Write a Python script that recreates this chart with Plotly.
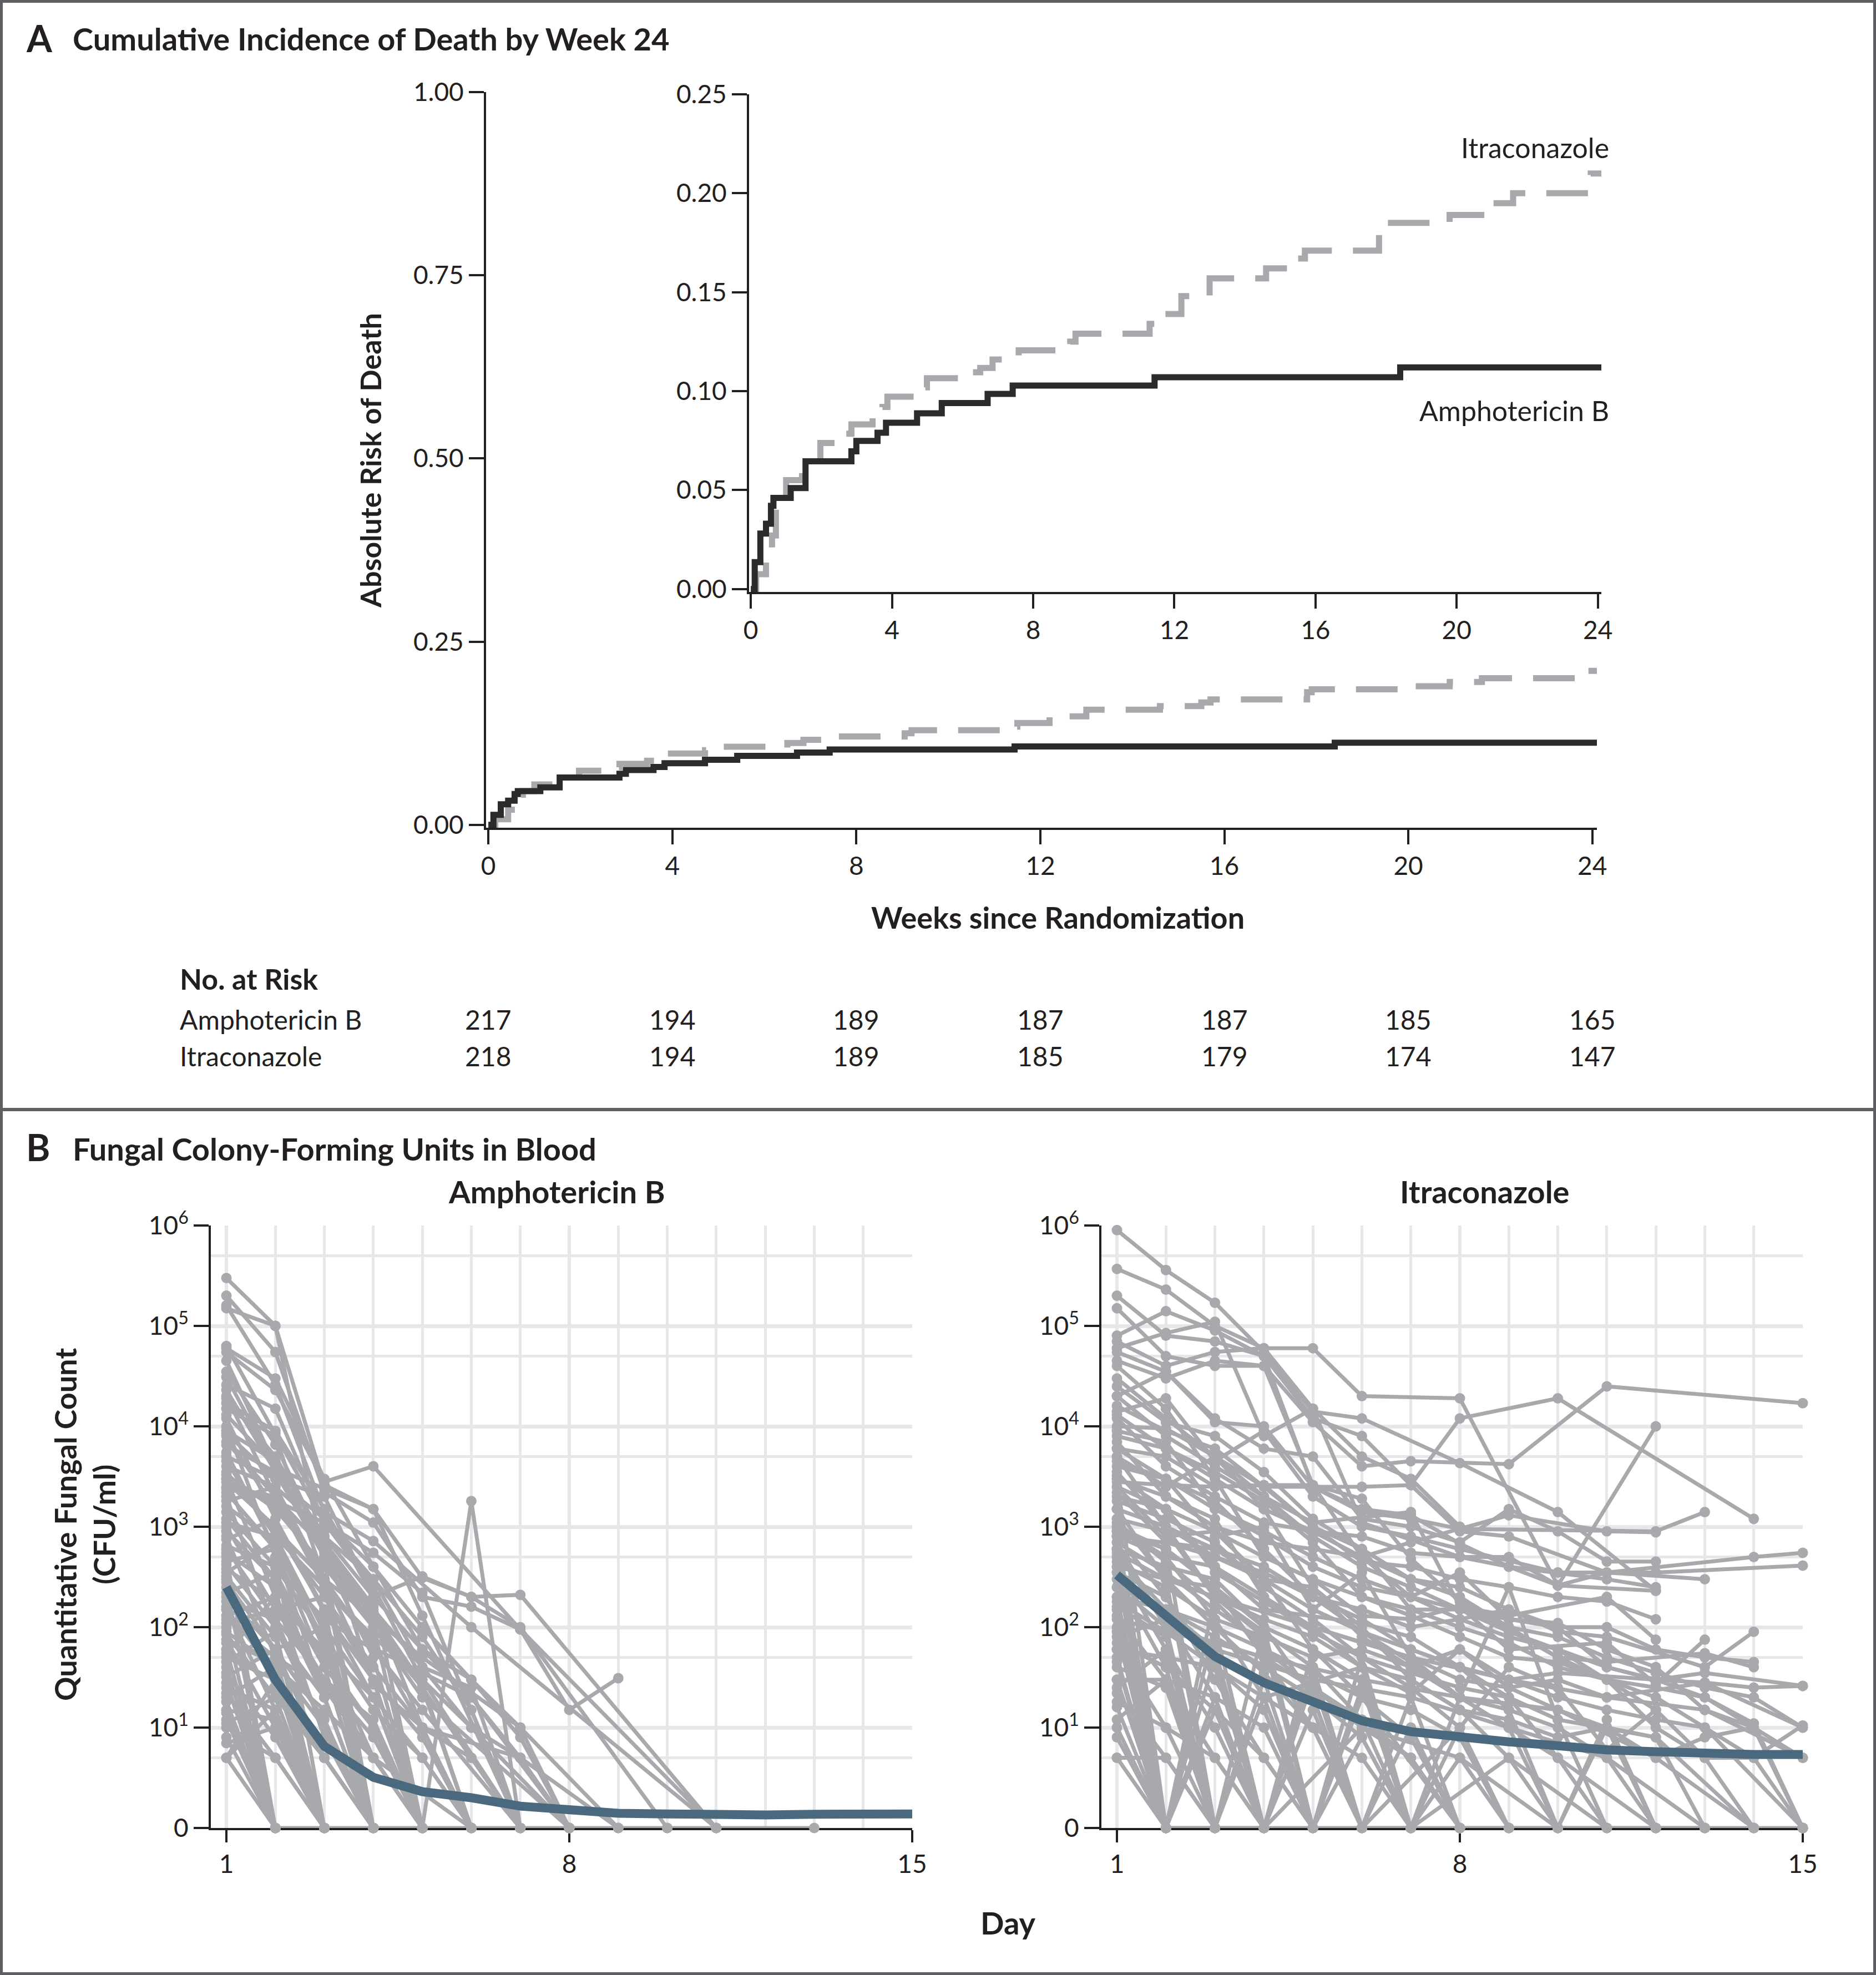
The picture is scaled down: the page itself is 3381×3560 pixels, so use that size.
import math
import plotly.graph_objects as go

W, H = 3381, 3560

# ---------------- Panel A data ----------------
AMB_WEEKS = [0, 0.11, 0.27, 0.43, 0.57, 0.64, 1.13, 1.55, 2.85, 2.99, 3.59, 3.83,
             4.71, 5.41, 6.71, 7.42, 11.44, 18.4, 24.1]
AMB_RISK_CURVE = [0, 0.0136, 0.028, 0.033, 0.042, 0.046, 0.051, 0.0645, 0.0696, 0.0748,
                  0.079, 0.084, 0.0888, 0.094, 0.0986, 0.1028, 0.107, 0.112, 0.112]
ITR_WEEKS = [0, 0.15, 0.43, 0.60, 0.71, 0.75, 1.0, 1.45, 1.97, 2.57, 2.85, 3.45, 3.73,
             3.87, 4.71, 4.99, 6.29, 6.5, 6.85, 7.59, 9.05, 9.2, 11.3, 11.5, 12.2, 13.0,
             14.6, 15.5, 15.7, 17.8, 17.9, 19.8, 20.9, 21.6, 23.8, 24.1]
ITR_RISK_CURVE = [0, 0.0075, 0.0206, 0.027, 0.041, 0.046, 0.055, 0.0645, 0.0738, 0.0785,
                  0.0832, 0.0874, 0.092, 0.0972, 0.1019, 0.1065, 0.1095, 0.1117, 0.116,
                  0.1206, 0.125, 0.129, 0.134, 0.139, 0.148, 0.157, 0.162, 0.167, 0.171,
                  0.181, 0.185, 0.189, 0.195, 0.200, 0.210, 0.210]
RISK_WEEKS = [0, 4, 8, 12, 16, 20, 24]
AMB_AT_RISK = [217, 194, 189, 187, 187, 185, 165]
ITR_AT_RISK = [218, 194, 189, 185, 179, 174, 147]

# ---------------- Panel B data (CFU/ml by day) ----------------
DAYS = list(range(1, 16))
AMB_MEAN = [250, 30, 6.5, 3.2, 2.3, 2.0, 1.65, 1.5, 1.4, 1.38, 1.35, 1.35, 1.37, 1.37, 1.38]
ITR_MEAN = [331, 132, 51, 28, 18, 11.7, 9.1, 7.9, 7.2, 6.6, 6.0, 5.75, 5.5, 5.4, 5.4]

AMB_PATIENTS = [
    [(1, 3.0e5), (2, 1.0e5), (3, 2.6e3), (4, 1.5e3), (5, 310), (6, 200), (7, 210), (11, 0)],
    [(1, 2.0e5), (2, 5.5e4), (3, 2.2e3), (4, 1.1e3), (5, 200), (6, 160), (7, 95), (8, 15), (9, 31)],
    [(1, 1.6e5), (2, 2.6e4), (3, 1.4e3), (4, 720), (6, 100), (11, 0)],
    [(1, 1.5e5), (2, 1.0e5), (3, 450), (4, 0)],
    [(1, 6.3e4), (2, 8.5e3), (3, 1.1e3), (4, 250), (5, 30), (7, 0)],
    [(1, 5.5e4), (2, 2.3e4), (3, 2.8e3), (4, 4.0e3), (7, 95), (11, 0)],
    [(1, 3.5e4), (2, 6.6e3), (3, 630), (4, 140), (5, 27), (6, 0)],
    [(1, 3.1e4), (2, 3.8e3), (3, 2.4e3), (4, 1.5e3), (5, 130), (7, 0)],
    [(1, 2.3e4), (2, 3.5e3), (3, 550), (4, 100), (5, 0)],
    [(1, 1.5e4), (2, 8.0e3), (3, 300), (4, 62), (6, 20), (8, 0)],
    [(1, 1.2e4), (2, 1.2e3), (3, 140), (4, 30), (5, 0)],
    [(1, 8.5e3), (2, 3.0e3), (3, 2.0e3), (4, 200), (5, 320), (6, 200), (7, 100), (10, 0)],
    [(1, 5.5e3), (2, 600), (3, 40), (4, 0)],
    [(1, 4.0e3), (2, 2.5e3), (3, 900), (4, 27), (5, 10), (6, 0)],
    [(1, 3.0e3), (2, 200), (3, 30), (4, 12), (5, 0), (6, 1.8e3), (7, 0)],
    [(1, 2.8e3), (2, 1.0e3), (3, 150), (4, 20), (5, 0)],
    [(1, 2.4e3), (2, 1.8e3), (3, 1.1e3), (4, 300), (5, 40), (6, 25), (7, 0)],
    [(1, 2.0e3), (2, 90), (3, 0)],
    [(1, 1.6e3), (2, 700), (3, 60), (4, 5), (5, 0)],
    [(1, 1.2e3), (2, 300), (3, 20), (4, 0)],
    [(1, 1.0e3), (2, 150), (3, 200), (4, 30), (5, 8), (6, 0)],
    [(1, 800), (2, 50), (3, 0)],
    [(1, 650), (2, 400), (3, 120), (4, 60), (5, 15), (7, 0)],
    [(1, 500), (2, 0)],
    [(1, 420), (2, 100), (3, 10), (4, 0)],
    [(1, 350), (2, 700), (3, 70), (4, 0)],
    [(1, 300), (2, 25), (3, 5), (4, 0)],
    [(1, 250), (2, 0)],
    [(1, 200), (2, 60), (3, 100), (4, 20), (5, 5), (6, 0)],
    [(1, 160), (2, 15), (3, 0)],
    [(1, 130), (2, 200), (3, 8), (4, 0)],
    [(1, 100), (2, 0)],
    [(1, 90), (2, 40), (3, 15), (4, 5), (6, 0)],
    [(1, 75), (2, 10), (3, 0)],
    [(1, 60), (2, 0)],
    [(1, 50), (2, 30), (3, 5), (4, 0)],
    [(1, 40), (2, 0)],
    [(1, 35), (2, 8), (3, 0)],
    [(1, 28), (2, 0)],
    [(1, 22), (2, 5), (3, 0)],
    [(1, 18), (2, 0)],
    [(1, 15), (2, 12), (3, 0)],
    [(1, 12), (2, 0)],
    [(1, 10), (2, 5), (3, 0)],
    [(1, 8), (2, 0)],
    [(1, 5), (2, 0), (3, 0), (4, 0), (5, 0), (6, 0), (7, 0), (8, 0), (9, 0), (10, 0), (11, 0), (13, 0)],
    [(1, 5), (2, 15), (3, 0)],
    [(1, 2.6e4), (2, 1.5e4), (3, 1.1e3), (4, 550), (5, 220), (7, 0)],
    [(1, 4.5e4), (2, 4.0e3), (3, 500), (4, 100), (5, 20), (8, 0)],
    [(1, 1.9e4), (2, 5.0e3), (3, 700), (4, 160), (5, 10), (7, 5), (9, 0)],
    [(1, 3.0e3), (3, 300), (5, 50), (7, 10), (9, 0)],
    [(1, 7.0e3), (2, 2.0e3), (3, 250), (4, 80), (5, 30), (6, 10), (8, 0)],
    [(1, 1.4e3), (2, 400), (3, 80), (4, 15), (5, 5), (6, 0)],
    [(1, 900), (2, 300), (3, 40), (4, 10), (5, 0)],
    [(1, 120), (2, 50), (3, 25), (4, 5), (5, 0)],
    [(1, 45), (2, 90), (3, 20), (4, 0)],
    [(1, 6.0e4), (2, 3.0e4), (3, 3.0e3), (4, 400), (5, 60), (6, 20), (7, 5), (8, 0)],
    [(1, 9.0e3), (2, 4.5e3), (3, 800), (4, 200), (5, 60), (6, 30), (7, 10), (8, 0)],
    [(1, 3.5e3), (2, 900), (3, 200), (4, 40), (5, 10), (6, 5), (7, 0)],
    [(1, 600), (2, 120), (3, 30), (4, 8), (5, 0)],
    [(1, 280), (2, 60), (3, 12), (4, 0)],
    [(1, 2.0e4), (2, 2.0e3), (3, 300), (4, 0)],
    [(1, 1.7e4), (2, 9.0e3), (3, 1.5e3), (4, 200), (5, 0)],
    [(1, 1.0e4), (2, 500), (3, 0)],
    [(1, 6.5e3), (2, 3.5e3), (3, 500), (4, 50), (5, 0)],
    [(1, 4.5e3), (2, 800), (3, 90), (4, 0)],
    [(1, 3.3e3), (2, 1.5e3), (3, 400), (4, 100), (5, 25), (6, 0)],
    [(1, 2.2e3), (2, 600), (3, 100), (4, 0)],
    [(1, 1.8e3), (2, 2.5e3), (3, 300), (4, 30), (5, 0)],
    [(1, 1.1e3), (2, 800), (3, 250), (4, 70), (5, 10), (6, 0)],
    [(1, 750), (2, 1.2e3), (3, 150), (4, 0)],
    [(1, 550), (2, 250), (3, 50), (4, 10), (5, 0)],
    [(1, 450), (2, 600), (3, 20), (4, 0)],
    [(1, 380), (2, 180), (3, 60), (4, 20), (5, 0)],
    [(1, 320), (2, 80), (3, 0)],
    [(1, 220), (2, 350), (3, 40), (4, 0)],
    [(1, 180), (2, 120), (3, 10), (4, 0)],
    [(1, 150), (2, 35), (3, 0)],
    [(1, 110), (2, 150), (3, 30), (4, 5), (5, 0)],
    [(1, 85), (2, 20), (3, 0)],
    [(1, 70), (2, 45), (3, 10), (4, 0)],
    [(1, 55), (2, 200), (3, 20), (4, 0)],
    [(1, 32), (2, 60), (3, 5), (4, 0)],
    [(1, 25), (2, 15), (3, 0)],
    [(1, 20), (2, 40), (3, 0)],
    [(1, 14), (2, 0)],
    [(1, 11), (2, 20), (3, 5), (4, 0)],
    [(1, 7), (2, 10), (3, 0)],
    [(1, 5), (2, 30), (3, 0)],
    [(1, 1.3e4), (2, 4.0e3), (3, 600), (4, 120), (5, 25), (6, 5), (7, 0)],
    [(1, 8.0e3), (2, 1.5e3), (3, 800), (4, 300), (5, 80), (6, 15), (7, 0)],
    [(1, 5.0e3), (2, 3.0e3), (3, 1.2e3), (4, 400), (5, 100), (6, 30), (7, 8), (8, 0)],
    [(1, 2.5e3), (2, 2.0e3), (3, 600), (4, 150), (5, 40), (6, 10), (7, 5), (8, 0)],
]

ITR_PATIENTS = [
    [(1, 9.0e5), (2, 3.6e5), (3, 1.7e5), (4, 5.5e4), (5, 1.4e4), (6, 1.2e4), (8, 4.3e3), (10, 1.4e3), (12, 230)],
    [(1, 3.7e5), (2, 2.3e5), (3, 1.0e5), (4, 6.0e4), (5, 6.0e4), (6, 2.0e4), (8, 1.9e4), (10, 260), (12, 1.0e4)],
    [(1, 2.0e5), (2, 8.0e4), (3, 7.0e4), (4, 5.0e4), (5, 1.2e4), (6, 8.0e3), (7, 2.6e3), (8, 1.2e4), (10, 1.9e4), (14, 1.2e3)],
    [(1, 1.5e5), (2, 5.0e4), (3, 4.0e4), (4, 4.0e4), (5, 1.1e4), (6, 4.0e3), (7, 4.5e3), (9, 4.2e3), (11, 2.5e4), (15, 1.7e4)],
    [(1, 8.0e4), (2, 1.4e5), (3, 9.0e4), (4, 5.0e4), (5, 2.5e3), (6, 1.4e3), (7, 1.2e3), (8, 950), (12, 900), (13, 1.4e3)],
    [(1, 6.0e4), (2, 8.5e4), (3, 1.1e5), (4, 8.0e3), (5, 1.5e4), (6, 1.1e3), (8, 500), (9, 500), (10, 260), (12, 230)],
    [(1, 4.5e4), (2, 3.0e4), (3, 4.5e4), (4, 4.0e4), (5, 2.6e3), (6, 500), (7, 700), (9, 1.3e3), (11, 900), (12, 880)],
    [(1, 2.0e4), (2, 3.5e4), (3, 1.1e4), (4, 1.0e4), (5, 2.5e3), (6, 1.5e3), (7, 1.3e3), (8, 680), (9, 400), (10, 260), (11, 350), (14, 500), (15, 550)],
    [(1, 1.4e4), (2, 1.9e4), (3, 4.5e3), (4, 9.0e3), (5, 2.0e3), (6, 1.0e3), (7, 800), (8, 600), (10, 350), (12, 350), (15, 410)],
    [(1, 1.0e4), (2, 9.5e3), (3, 5.0e3), (4, 2.0e3), (5, 1.1e3), (7, 1.4e3), (8, 160), (9, 130), (11, 200), (12, 75)],
    [(1, 8.0e3), (2, 6.0e3), (3, 3.0e3), (4, 500), (5, 300), (6, 130), (7, 120), (8, 160), (9, 60), (11, 70), (12, 27), (13, 75)],
    [(1, 6.0e3), (2, 5.0e3), (3, 2.5e3), (4, 2.6e3), (5, 2.6e3), (6, 1.9e3), (7, 480), (8, 180), (10, 50), (11, 45), (13, 55), (14, 40)],
    [(1, 5.0e3), (2, 2.5e3), (3, 5.0e3), (4, 1.5e3), (5, 250), (6, 80), (7, 40), (8, 60), (9, 30), (10, 35), (12, 30), (13, 35), (15, 26)],
    [(1, 4.0e3), (2, 3.0e3), (3, 800), (4, 1.0e3), (5, 150), (6, 350), (7, 50), (8, 20), (9, 250), (10, 12), (11, 0)],
    [(1, 3.0e3), (2, 2.0e3), (3, 1.2e3), (4, 200), (5, 100), (6, 40), (7, 22), (8, 60), (9, 25), (10, 30), (11, 20), (13, 28), (15, 10)],
    [(1, 2.5e3), (2, 800), (3, 900), (4, 300), (5, 60), (6, 20), (7, 8), (8, 0)],
    [(1, 2.0e3), (2, 1.5e3), (3, 400), (4, 150), (6, 110), (7, 80), (9, 20), (10, 5), (12, 0)],
    [(1, 1.5e3), (2, 300), (3, 250), (4, 50), (5, 10), (6, 0), (8, 10), (9, 0)],
    [(1, 1.2e3), (2, 900), (3, 200), (4, 90), (5, 40), (6, 12), (7, 0)],
    [(1, 1.0e3), (2, 500), (3, 120), (4, 20), (6, 40), (7, 0), (9, 5), (11, 0)],
    [(1, 900), (2, 0), (3, 50), (4, 0)],
    [(1, 800), (2, 200), (3, 40), (4, 0), (5, 30), (6, 0)],
    [(1, 700), (2, 100), (3, 0), (4, 20), (5, 0)],
    [(1, 600), (2, 400), (3, 300), (4, 100), (5, 20), (6, 0), (7, 10), (8, 0)],
    [(1, 500), (2, 0)],
    [(1, 400), (2, 60), (3, 10), (4, 0), (5, 15), (6, 0)],
    [(1, 350), (2, 200), (3, 30), (4, 5), (5, 0)],
    [(1, 300), (2, 40), (3, 0)],
    [(1, 250), (2, 150), (3, 80), (4, 40), (5, 20), (6, 8), (7, 0), (8, 5), (9, 0)],
    [(1, 200), (2, 0), (3, 20), (4, 0)],
    [(1, 160), (2, 80), (3, 0)],
    [(1, 130), (2, 30), (3, 5), (4, 0)],
    [(1, 100), (2, 0)],
    [(1, 80), (2, 120), (3, 20), (4, 0)],
    [(1, 60), (2, 10), (3, 0)],
    [(1, 50), (2, 0)],
    [(1, 40), (2, 25), (3, 0)],
    [(1, 30), (2, 0)],
    [(1, 22), (2, 5), (3, 0)],
    [(1, 16), (2, 0)],
    [(1, 12), (2, 30), (3, 0)],
    [(1, 10), (2, 0)],
    [(1, 5), (2, 0), (3, 0), (4, 0), (5, 0), (6, 0), (7, 0), (8, 0), (9, 0), (10, 0), (11, 0), (12, 0), (13, 0), (14, 0), (15, 0)],
    [(1, 5), (2, 5), (3, 0)],
    [(1, 3.5e3), (2, 1.0e3), (3, 600), (4, 400), (5, 200), (6, 150), (7, 100), (8, 120), (9, 80), (10, 60), (11, 40), (12, 30), (13, 28), (14, 25), (15, 26)],
    [(1, 2.2e3), (2, 700), (3, 500), (4, 300), (5, 250), (6, 100), (7, 30), (8, 15), (9, 12), (10, 8), (11, 10), (12, 5), (13, 8), (14, 10), (15, 0)],
    [(1, 1.8e3), (2, 1.2e3), (3, 700), (4, 250), (5, 120), (6, 50), (7, 25), (8, 10), (9, 40), (10, 25), (11, 6), (12, 15), (13, 5), (14, 5), (15, 10.5)],
    [(1, 900), (2, 600), (3, 250), (4, 100), (5, 60), (6, 30), (7, 0), (8, 20), (9, 15), (10, 0), (11, 12), (12, 0), (13, 0)],
    [(1, 700), (2, 350), (3, 150), (4, 70), (5, 0), (6, 25), (7, 0), (8, 10), (9, 0)],
    [(1, 450), (2, 250), (3, 120), (4, 80), (5, 50), (6, 60), (7, 40), (8, 20), (9, 10), (10, 5), (11, 0)],
    [(1, 3.0e4), (2, 1.2e4), (3, 5.0e3), (4, 2.5e3), (5, 1.0e3), (6, 600), (7, 300), (8, 250), (9, 150), (10, 100), (11, 40), (12, 30), (13, 20), (14, 11), (15, 0)],
    [(1, 1.2e4), (2, 4.0e3), (3, 2.0e3), (4, 1.1e3), (5, 900), (6, 800), (7, 550), (8, 500), (9, 400), (10, 350), (11, 300), (12, 250)],
    [(1, 7.0e3), (2, 2.0e3), (3, 1.0e3), (4, 700), (5, 600), (6, 500), (7, 200), (8, 350), (9, 120), (10, 100), (11, 100), (12, 60), (13, 50), (14, 45)],
    [(1, 5.5e4), (2, 3.5e4), (3, 1.2e4), (4, 6.0e3), (5, 5.0e3), (6, 1.2e3), (7, 1.0e3), (8, 700), (9, 1.5e3), (10, 900), (11, 450), (12, 450)],
    [(1, 2.5e4), (2, 1.1e4), (3, 8.0e3), (4, 3.5e3), (5, 1.2e3), (6, 600), (7, 150), (8, 150), (9, 120), (10, 110), (11, 60), (12, 40), (13, 15), (14, 10), (15, 0)],
    [(1, 600), (2, 100), (4, 50), (6, 30), (8, 20), (10, 15), (12, 5), (14, 0)],
    [(1, 250), (2, 100), (3, 60), (5, 30), (7, 20), (9, 10), (11, 5), (13, 0)],
    [(1, 5.0e3), (3, 200), (5, 100), (7, 50), (9, 30), (11, 20), (13, 15), (15, 5)],
    [(1, 1.6e4), (2, 9.0e3), (3, 6.0e3), (4, 2.5e3), (5, 2.5e3), (6, 2.5e3), (7, 2.6e3), (8, 900), (9, 800), (11, 350), (13, 300)],
    [(1, 9.0e3), (2, 7.0e3), (3, 1.5e3), (4, 800), (5, 400), (6, 250), (7, 200), (8, 120), (9, 150), (10, 90), (11, 80), (13, 40), (14, 90)],
    [(1, 3.2e3), (2, 1.5e3), (3, 350), (4, 180), (5, 90), (6, 50), (7, 35), (8, 25), (9, 20), (10, 12), (12, 8), (14, 0)],
    [(1, 1.1e3), (2, 450), (3, 180), (4, 60), (5, 25), (6, 10), (7, 5), (8, 0), (10, 0)],
    [(1, 550), (2, 300), (3, 100), (4, 35), (5, 10), (6, 0), (7, 0)],
    [(1, 180), (2, 90), (3, 40), (4, 15), (5, 0), (6, 8), (7, 0)],
    [(1, 70), (2, 40), (3, 15), (4, 5), (5, 0)],
    [(1, 2.8e3), (2, 2.6e3), (3, 2.5e3), (4, 2.6e3), (5, 1.0e3), (6, 450), (7, 400), (8, 300), (9, 250), (10, 200), (11, 180), (12, 120)],
    [(1, 1.3e4), (2, 6.0e3), (3, 3.5e3), (4, 1.8e3), (5, 700), (6, 200), (7, 130), (8, 80), (9, 50), (10, 45), (11, 30), (12, 25), (13, 20), (15, 5)],
    [(1, 4.5e3), (2, 3.0e3), (3, 1.8e3), (4, 600), (5, 200), (6, 120), (7, 60), (8, 40), (9, 15), (10, 10), (11, 5), (12, 0)],
    [(1, 800), (2, 700), (3, 600), (4, 300), (5, 150), (6, 90), (7, 45), (8, 20), (9, 10), (10, 0), (11, 10), (12, 0)],
    [(1, 2.5e3), (2, 1.5e3), (3, 900), (4, 500), (5, 300), (6, 200), (7, 150), (8, 100), (9, 70), (10, 40), (11, 30), (12, 10), (13, 5), (14, 0)],
    [(1, 1.5e3), (2, 1.0e3), (3, 500), (4, 350), (5, 200), (6, 90), (7, 60), (8, 40), (9, 30), (10, 20), (11, 15), (12, 12), (13, 10), (15, 0)],
    [(1, 800), (2, 500), (3, 400), (4, 200), (5, 100), (6, 70), (7, 50), (8, 30), (9, 25), (10, 15), (11, 10), (12, 8), (13, 0)],
    [(1, 400), (2, 300), (3, 200), (4, 120), (5, 80), (6, 40), (7, 30), (8, 15), (9, 5), (10, 0)],
    [(1, 200), (2, 150), (3, 100), (4, 60), (5, 35), (6, 20), (7, 15), (8, 8), (9, 0)],
    [(1, 120), (2, 90), (3, 70), (4, 50), (5, 25), (6, 12), (7, 5), (8, 0)],
    [(1, 60), (2, 50), (3, 40), (4, 20), (5, 10), (6, 5), (7, 0)],
    [(1, 30), (2, 30), (3, 20), (4, 10), (5, 0)],
    [(1, 6.0e3), (2, 3.0e3), (3, 1.5e3), (4, 900), (5, 500), (6, 300), (7, 200), (8, 150), (9, 100), (10, 80), (11, 50), (12, 35), (13, 25), (14, 20), (15, 10)],
    [(1, 2.0e4), (2, 8.0e3), (3, 4.0e3), (4, 2.0e3), (5, 800), (6, 400), (7, 250), (8, 150), (9, 90), (10, 60), (11, 30), (12, 20), (13, 10), (14, 5), (15, 0)],
    [(1, 1.0e3), (2, 600), (3, 0), (4, 100), (5, 0), (6, 50), (7, 0)],
    [(1, 350), (2, 0), (3, 100), (4, 0), (5, 40), (6, 0), (7, 20), (8, 0)],
    [(1, 150), (2, 0), (3, 0), (4, 30), (5, 0)],
    [(1, 90), (2, 0), (3, 15), (4, 0)],
    [(1, 45), (2, 0)],
    [(1, 25), (2, 60), (3, 0)],
    [(1, 18), (2, 10), (3, 5), (4, 0)],
    [(1, 8), (2, 0)],
    [(1, 3.0e3), (2, 0), (3, 200), (4, 80), (5, 0), (6, 20), (8, 0)],
    [(1, 1.2e3), (2, 300), (3, 0), (4, 0), (5, 60), (6, 30), (7, 0)],
    [(1, 500), (2, 150), (3, 60), (4, 0), (6, 10), (8, 5), (10, 0), (12, 0)],
    [(1, 4.0e4), (2, 1.5e4), (3, 3.0e3), (4, 1.5e3), (5, 900), (6, 500), (7, 300), (8, 200), (9, 100), (10, 50), (11, 30), (12, 15)],
    [(1, 7.0e4), (2, 4.0e4), (3, 5.5e4), (4, 6.0e4), (5, 1.5e4), (6, 5.0e3), (7, 3.0e3), (8, 1.0e3)],
]

# ---------------- helpers ----------------
FONT = "Lato, 'Open Sans', sans-serif"
INK = "#231f20"
GRAY = "#a7a9ac"
BLUE = "#4a687e"
GRID = "#e6e7e8"


def xd(p0, p1):
    return [p0 / W, p1 / W]


def yd(top, bottom):
    return [1 - bottom / H, 1 - top / H]


def px_x(p):
    return p / W


def px_y(p):
    return 1 - p / H


def tlog(v):
    return math.log10(v) if v > 0 else 0.0


def spaghetti(patients):
    xs, ys = [], []
    for p in patients:
        for d, v in p:
            xs.append(d)
            ys.append(tlog(v))
        xs.append(None)
        ys.append(None)
    return xs, ys


fig = go.Figure()

# Panel A main curves
fig.add_trace(go.Scatter(x=ITR_WEEKS, y=ITR_RISK_CURVE, mode="lines", line_shape="hv",
                         line=dict(color=GRAY, width=11, dash="75px,38px"),
                         xaxis="x", yaxis="y", showlegend=False, cliponaxis=False))
fig.add_trace(go.Scatter(x=AMB_WEEKS, y=AMB_RISK_CURVE, mode="lines", line_shape="hv",
                         line=dict(color="#2b2b2b", width=11),
                         xaxis="x", yaxis="y", showlegend=False, cliponaxis=False))
# Inset
fig.add_trace(go.Scatter(x=ITR_WEEKS, y=ITR_RISK_CURVE, mode="lines", line_shape="hv",
                         line=dict(color=GRAY, width=11, dash="75px,38px"),
                         xaxis="x2", yaxis="y2", showlegend=False, cliponaxis=False))
fig.add_trace(go.Scatter(x=AMB_WEEKS, y=AMB_RISK_CURVE, mode="lines", line_shape="hv",
                         line=dict(color="#2b2b2b", width=11),
                         xaxis="x2", yaxis="y2", showlegend=False, cliponaxis=False))

# Panel B
for pats, mean, xa, ya in [(AMB_PATIENTS, AMB_MEAN, "x3", "y3"), (ITR_PATIENTS, ITR_MEAN, "x4", "y4")]:
    sx, sy = spaghetti(pats)
    fig.add_trace(go.Scatter(x=sx, y=sy, mode="lines+markers",
                             line=dict(color=GRAY, width=7),
                             marker=dict(color=GRAY, size=19),
                             xaxis=xa, yaxis=ya, showlegend=False, cliponaxis=False))
    fig.add_trace(go.Scatter(x=DAYS, y=[tlog(v) for v in mean], mode="lines",
                             line=dict(color=BLUE, width=16),
                             xaxis=xa, yaxis=ya, showlegend=False, cliponaxis=False))

tickfont = dict(family=FONT, size=46, color=INK)
common_ax = dict(showline=True, linecolor=INK, linewidth=4, ticks="outside", tickwidth=4,
                 tickcolor=INK, showgrid=False, zeroline=False, tickfont=tickfont,
                 automargin=False)

layout = dict(
    width=W, height=H, margin=dict(l=0, r=0, t=0, b=0, pad=0, autoexpand=False),
    paper_bgcolor="white", plot_bgcolor="rgba(0,0,0,0)",
    font=dict(family=FONT, color=INK),
    xaxis=dict(domain=xd(876, 2878), range=[-0.05, 24.1], tickvals=RISK_WEEKS,
               ticklen=26, anchor="y", **common_ax),
    yaxis=dict(domain=yd(166, 1492), range=[-0.004, 1.0], tickvals=[0, 0.25, 0.5, 0.75, 1.0],
               tickformat=".2f", ticklen=27, anchor="x", **common_ax),
    xaxis2=dict(domain=xd(1350, 2886), range=[-0.05, 24.1], tickvals=RISK_WEEKS,
                ticklen=26, anchor="y2", **common_ax),
    yaxis2=dict(domain=yd(170, 1067), range=[-0.0015, 0.25],
                tickvals=[0, 0.05, 0.10, 0.15, 0.20, 0.25], tickformat=".2f",
                ticklen=27, anchor="x2", **common_ax),
)

for xa, ya, dom in [("xaxis3", "yaxis3", xd(380, 1644)), ("xaxis4", "yaxis4", xd(1985, 3249))]:
    start = 1 - (28 / 88.3)
    xn = xa.replace("axis", "")
    yn = ya.replace("axis", "")
    layout[xa] = dict(domain=dom, range=[start, 15], tickvals=[1, 8, 15], ticklen=22,
                      anchor=yn, layer="below traces", automargin=False,
                      showline=True, linecolor=INK, linewidth=4, ticks="outside",
                      tickwidth=4, tickcolor=INK, zeroline=False, tickfont=tickfont,
                      showgrid=True, gridcolor=GRID, gridwidth=6,
                      minor=dict(tickvals=[d for d in DAYS if d not in (1, 8, 15)],
                                 showgrid=True, gridcolor=GRID, gridwidth=5, ticks=""))
    layout[ya] = dict(domain=yd(2209, 3295), range=[0, 6], tickvals=list(range(7)),
                      ticktext=["0"] + ["10<sup>%d</sup>" % k for k in range(1, 7)],
                      ticklen=27, anchor=xn, layer="below traces", automargin=False,
                      showline=True, linecolor=INK, linewidth=4, ticks="outside",
                      tickwidth=4, tickcolor=INK, zeroline=False, tickfont=tickfont,
                      showgrid=True, gridcolor=GRID, gridwidth=7,
                      minor=dict(tickvals=[k + math.log10(5) for k in range(6)],
                                 showgrid=True, gridcolor=GRID, gridwidth=5, ticks=""))

fig.update_layout(**layout)

anns = []


def ann(text, x, y, size, xanchor="center", angle=0, xref="paper", color=INK):
    anns.append(dict(text=text, x=x if xref != "paper" else px_x(x), y=px_y(y),
                     xref=xref, yref="paper", showarrow=False, xanchor=xanchor,
                     yanchor="middle", textangle=angle,
                     font=dict(family=FONT, size=size, color=color)))


ann("<b>A</b>", 45, 68, 66, "left")
ann("<b>Cumulative Incidence of Death by Week 24</b>", 129, 70, 56, "left")
ann("<b>Absolute Risk of Death</b>", 667, 830, 52, angle=-90)
ann("<b>Weeks since Randomization</b>", 1907, 1653, 54)
ann("Itraconazole", 2902, 266, 50, "right")
ann("Amphotericin B", 2902, 740, 50, "right")
ann("<b>No. at Risk</b>", 322, 1764, 52, "left")
ann("Amphotericin B", 322, 1837, 48, "left")
ann("Itraconazole", 322, 1903, 48, "left")
for wk, a, i in zip(RISK_WEEKS, AMB_AT_RISK, ITR_AT_RISK):
    ann(str(a), wk, 1837, 48, xref="x")
    ann(str(i), wk, 1903, 48, xref="x")

ann("<b>B</b>", 45, 2067, 66, "left")
ann("<b>Fungal Colony-Forming Units in Blood</b>", 129, 2070, 56, "left")
ann("<b>Amphotericin B</b>", 1003, 2147, 56)
ann("<b>Itraconazole</b>", 2675, 2147, 56)
ann("<b>Quantitative Fungal Count<br>(CFU/ml)</b>", 152, 2748, 54, angle=-90)
ann("<b>Day</b>", 1816, 3465, 56)

fig.update_layout(annotations=anns)

# frame and separator
frame = "#5d5f63"
fig.update_layout(shapes=[
    dict(type="rect", xref="paper", yref="paper", x0=0, y0=0, x1=1, y1=1,
         line=dict(color=frame, width=10)),
    dict(type="line", xref="paper", yref="paper", x0=0, x1=1, y0=px_y(2000), y1=px_y(2000),
         line=dict(color=frame, width=6)),
])

fig.write_html("out.html")
